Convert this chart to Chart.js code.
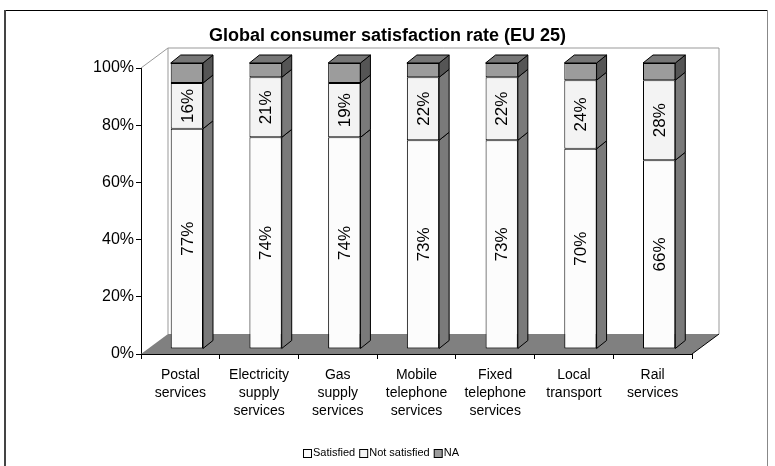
<!DOCTYPE html>
<html>
<head>
<meta charset="utf-8">
<script src="https://cdn.jsdelivr.net/npm/chart.js@4.4.1/dist/chart.umd.min.js"></script>
<style>
  body { margin: 0; background: #fff; }
  #chart { display: block; }
</style>
</head>
<body>
<canvas id="chart" width="775" height="466"></canvas>
<script>
// Chart data
const categories = [
    ['Postal', 'services'],
    ['Electricity', 'supply', 'services'],
    ['Gas', 'supply', 'services'],
    ['Mobile', 'telephone', 'services'],
    ['Fixed', 'telephone', 'services'],
    ['Local', 'transport'],
    ['Rail', 'services']
];
const satisfied = [77, 74, 74, 73, 73, 70, 66];
const notSatisfied = [16, 21, 19, 22, 22, 24, 28];
const notAvailable = [7, 5, 7, 5, 5, 6, 6];
const yTicks = [0, 20, 40, 60, 80, 100];

const FONT = '"Liberation Sans", Arial, sans-serif';

// 3D look: depth of the walls and of the bars
const WALL_DX = 27, WALL_DY = -20;
const BAR_SHIFT_X = 6.5, BAR_SHIFT_Y = -5;
const BAR_DX = 10, BAR_DY = -8;
const sideColors = ['#7a7a7a', '#7a7a7a', '#555555'];
const topColor = '#777777';

const threeD = {
    id: 'threeD',
    beforeDraw: function(chart) {
        const ctx = chart.ctx;
        ctx.save();
        ctx.fillStyle = '#fff';
        ctx.fillRect(0, 0, chart.width, chart.height);
        // outer frame
        ctx.strokeStyle = '#000';
        ctx.lineWidth = 1;
        ctx.beginPath();
        ctx.moveTo(4, 10.5);
        ctx.lineTo(768, 10.5);
        ctx.stroke();
        ctx.strokeStyle = '#444';
        ctx.lineWidth = 2;
        ctx.beginPath();
        ctx.moveTo(5, 10);
        ctx.lineTo(5, chart.height);
        ctx.stroke();
        ctx.strokeStyle = '#888';
        ctx.lineWidth = 1;
        ctx.beginPath();
        ctx.moveTo(767.5, 10);
        ctx.lineTo(767.5, chart.height);
        ctx.stroke();
        ctx.restore();
    },
    beforeDatasetsDraw: function(chart) {
        const ctx = chart.ctx;
        const x = chart.scales.x, y = chart.scales.y;
        const x0 = x.left, x1 = x.right;
        const yb = y.getPixelForValue(0), yt = y.getPixelForValue(100);
        ctx.save();
        // floor
        ctx.fillStyle = '#808080';
        ctx.beginPath();
        ctx.moveTo(x0, yb);
        ctx.lineTo(x1, yb);
        ctx.lineTo(x1 + WALL_DX, yb + WALL_DY);
        ctx.lineTo(x0 + WALL_DX, yb + WALL_DY);
        ctx.closePath();
        ctx.fill();
        ctx.strokeStyle = '#000';
        ctx.lineWidth = 1;
        ctx.beginPath();
        ctx.moveTo(x1, yb);
        ctx.lineTo(x1 + WALL_DX, yb + WALL_DY);
        ctx.stroke();
        // walls
        ctx.strokeStyle = '#999';
        ctx.beginPath();
        ctx.moveTo(x0, yt);
        ctx.lineTo(x0 + WALL_DX, yt + WALL_DY);
        ctx.lineTo(x1 + WALL_DX, yt + WALL_DY);
        ctx.lineTo(x1 + WALL_DX, yb + WALL_DY);
        ctx.moveTo(x0 + WALL_DX, yt + WALL_DY);
        ctx.lineTo(x0 + WALL_DX, yb + WALL_DY);
        ctx.stroke();
        ctx.restore();

        ctx.save();
        ctx.translate(BAR_SHIFT_X, BAR_SHIFT_Y);
    },
    afterDatasetsDraw: function(chart) {
        const ctx = chart.ctx;
        ctx.strokeStyle = '#000';
        ctx.lineWidth = 1;
        chart.data.datasets.forEach(function(ds, i) {
            const meta = chart.getDatasetMeta(i);
            meta.data.forEach(function(el) {
                const p = el.getProps(['x', 'y', 'base', 'width'], true);
                const r = p.x + p.width / 2, l = p.x - p.width / 2;
                // side face
                ctx.fillStyle = sideColors[i];
                ctx.beginPath();
                ctx.moveTo(r, p.y);
                ctx.lineTo(r + BAR_DX, p.y + BAR_DY);
                ctx.lineTo(r + BAR_DX, p.base + BAR_DY);
                ctx.lineTo(r, p.base);
                ctx.closePath();
                ctx.fill();
                ctx.stroke();
                // top face on the last segment
                if (i === chart.data.datasets.length - 1) {
                    ctx.fillStyle = topColor;
                    ctx.beginPath();
                    ctx.moveTo(l, p.y);
                    ctx.lineTo(l + BAR_DX, p.y + BAR_DY);
                    ctx.lineTo(r + BAR_DX, p.y + BAR_DY);
                    ctx.lineTo(r, p.y);
                    ctx.closePath();
                    ctx.fill();
                    ctx.stroke();
                }
            });
        });
        // value labels, rotated
        ctx.fillStyle = '#000';
        ctx.font = '17px ' + FONT;
        ctx.textAlign = 'center';
        ctx.textBaseline = 'middle';
        [0, 1].forEach(function(i) {
            const values = chart.data.datasets[i].data;
            chart.getDatasetMeta(i).data.forEach(function(el, j) {
                const p = el.getProps(['x', 'y', 'base'], true);
                ctx.save();
                ctx.translate(p.x, (p.y + p.base) / 2);
                ctx.rotate(-Math.PI / 2);
                ctx.fillText(values[j] + '%', 0, 1);
                ctx.restore();
            });
        });
        ctx.restore();
    },
    afterDraw: function(chart) {
        // compact legend: box right next to its text
        const ctx = chart.ctx;
        const ds = chart.data.datasets;
        ctx.save();
        ctx.font = '11px ' + FONT;
        ctx.textBaseline = 'middle';
        ctx.textAlign = 'left';
        const box = 8, gapText = 2, gapItem = 4;
        let total = 0;
        ds.forEach(function(d, i) {
            total += box + gapText + ctx.measureText(d.label).width + (i < ds.length - 1 ? gapItem : 0);
        });
        let cx = Math.round(381 - total / 2);
        const cy = 453;
        ds.forEach(function(d) {
            ctx.fillStyle = d.backgroundColor;
            ctx.fillRect(cx + 0.5, cy - 3.5, box, box);
            ctx.strokeStyle = '#000';
            ctx.lineWidth = 1;
            ctx.strokeRect(cx + 0.5, cy - 3.5, box, box);
            ctx.fillStyle = '#000';
            ctx.fillText(d.label, cx + box + gapText, cy);
            cx += box + gapText + ctx.measureText(d.label).width + gapItem;
        });
        ctx.restore();
    }
};

const barCommon = {
    borderColor: '#000',
    borderWidth: 1,
    borderSkipped: false,
    barPercentage: 0.41,
    categoryPercentage: 1,
    clip: false
};

new Chart(document.getElementById('chart'), {
    type: 'bar',
    data: {
        labels: categories,
        datasets: [
            Object.assign({ label: 'Satisfied', data: satisfied, backgroundColor: '#fcfcfc' }, barCommon),
            Object.assign({ label: 'Not satisfied', data: notSatisfied, backgroundColor: '#f3f3f3' }, barCommon),
            Object.assign({ label: 'NA', data: notAvailable, backgroundColor: '#9c9c9c' }, barCommon)
        ]
    },
    options: {
        responsive: false,
        animation: false,
        layout: { padding: 0 },
        plugins: {
            title: {
                display: true,
                text: 'Global consumer satisfaction rate (EU 25)',
                color: '#000',
                font: { family: FONT, size: 18, weight: 'bold' },
                padding: { top: 25.2, bottom: 21.2 }
            },
            legend: { display: false },
            tooltip: { enabled: false }
        },
        scales: {
            x: {
                stacked: true,
                grid: { drawOnChartArea: false, tickLength: 5, color: '#000', offset: true },
                border: { color: '#000' },
                ticks: {
                    color: '#000',
                    font: { family: FONT, size: 14, lineHeight: 1.29 },
                    maxRotation: 0,
                    autoSkip: false,
                    padding: 7
                },
                afterFit: function(scale) { scale.height = 112; }
            },
            y: {
                stacked: true,
                min: 0,
                max: 100,
                afterBuildTicks: function(scale) {
                    scale.ticks = yTicks.map(function(v) { return { value: v }; });
                },
                ticks: {
                    color: '#000',
                    font: { family: FONT, size: 16 },
                    padding: 2,
                    callback: function(value) { return value + '%'; }
                },
                grid: { drawOnChartArea: false, tickLength: 5, color: '#000' },
                border: { color: '#000' },
                afterFit: function(scale) { scale.width = 141; }
            },
            // empty space right of the plot
            yRight: {
                position: 'right',
                display: true,
                grid: { display: false },
                border: { display: false },
                ticks: { display: false },
                afterFit: function(scale) { scale.width = 83; }
            }
        }
    },
    plugins: [threeD]
});
</script>
</body>
</html>
